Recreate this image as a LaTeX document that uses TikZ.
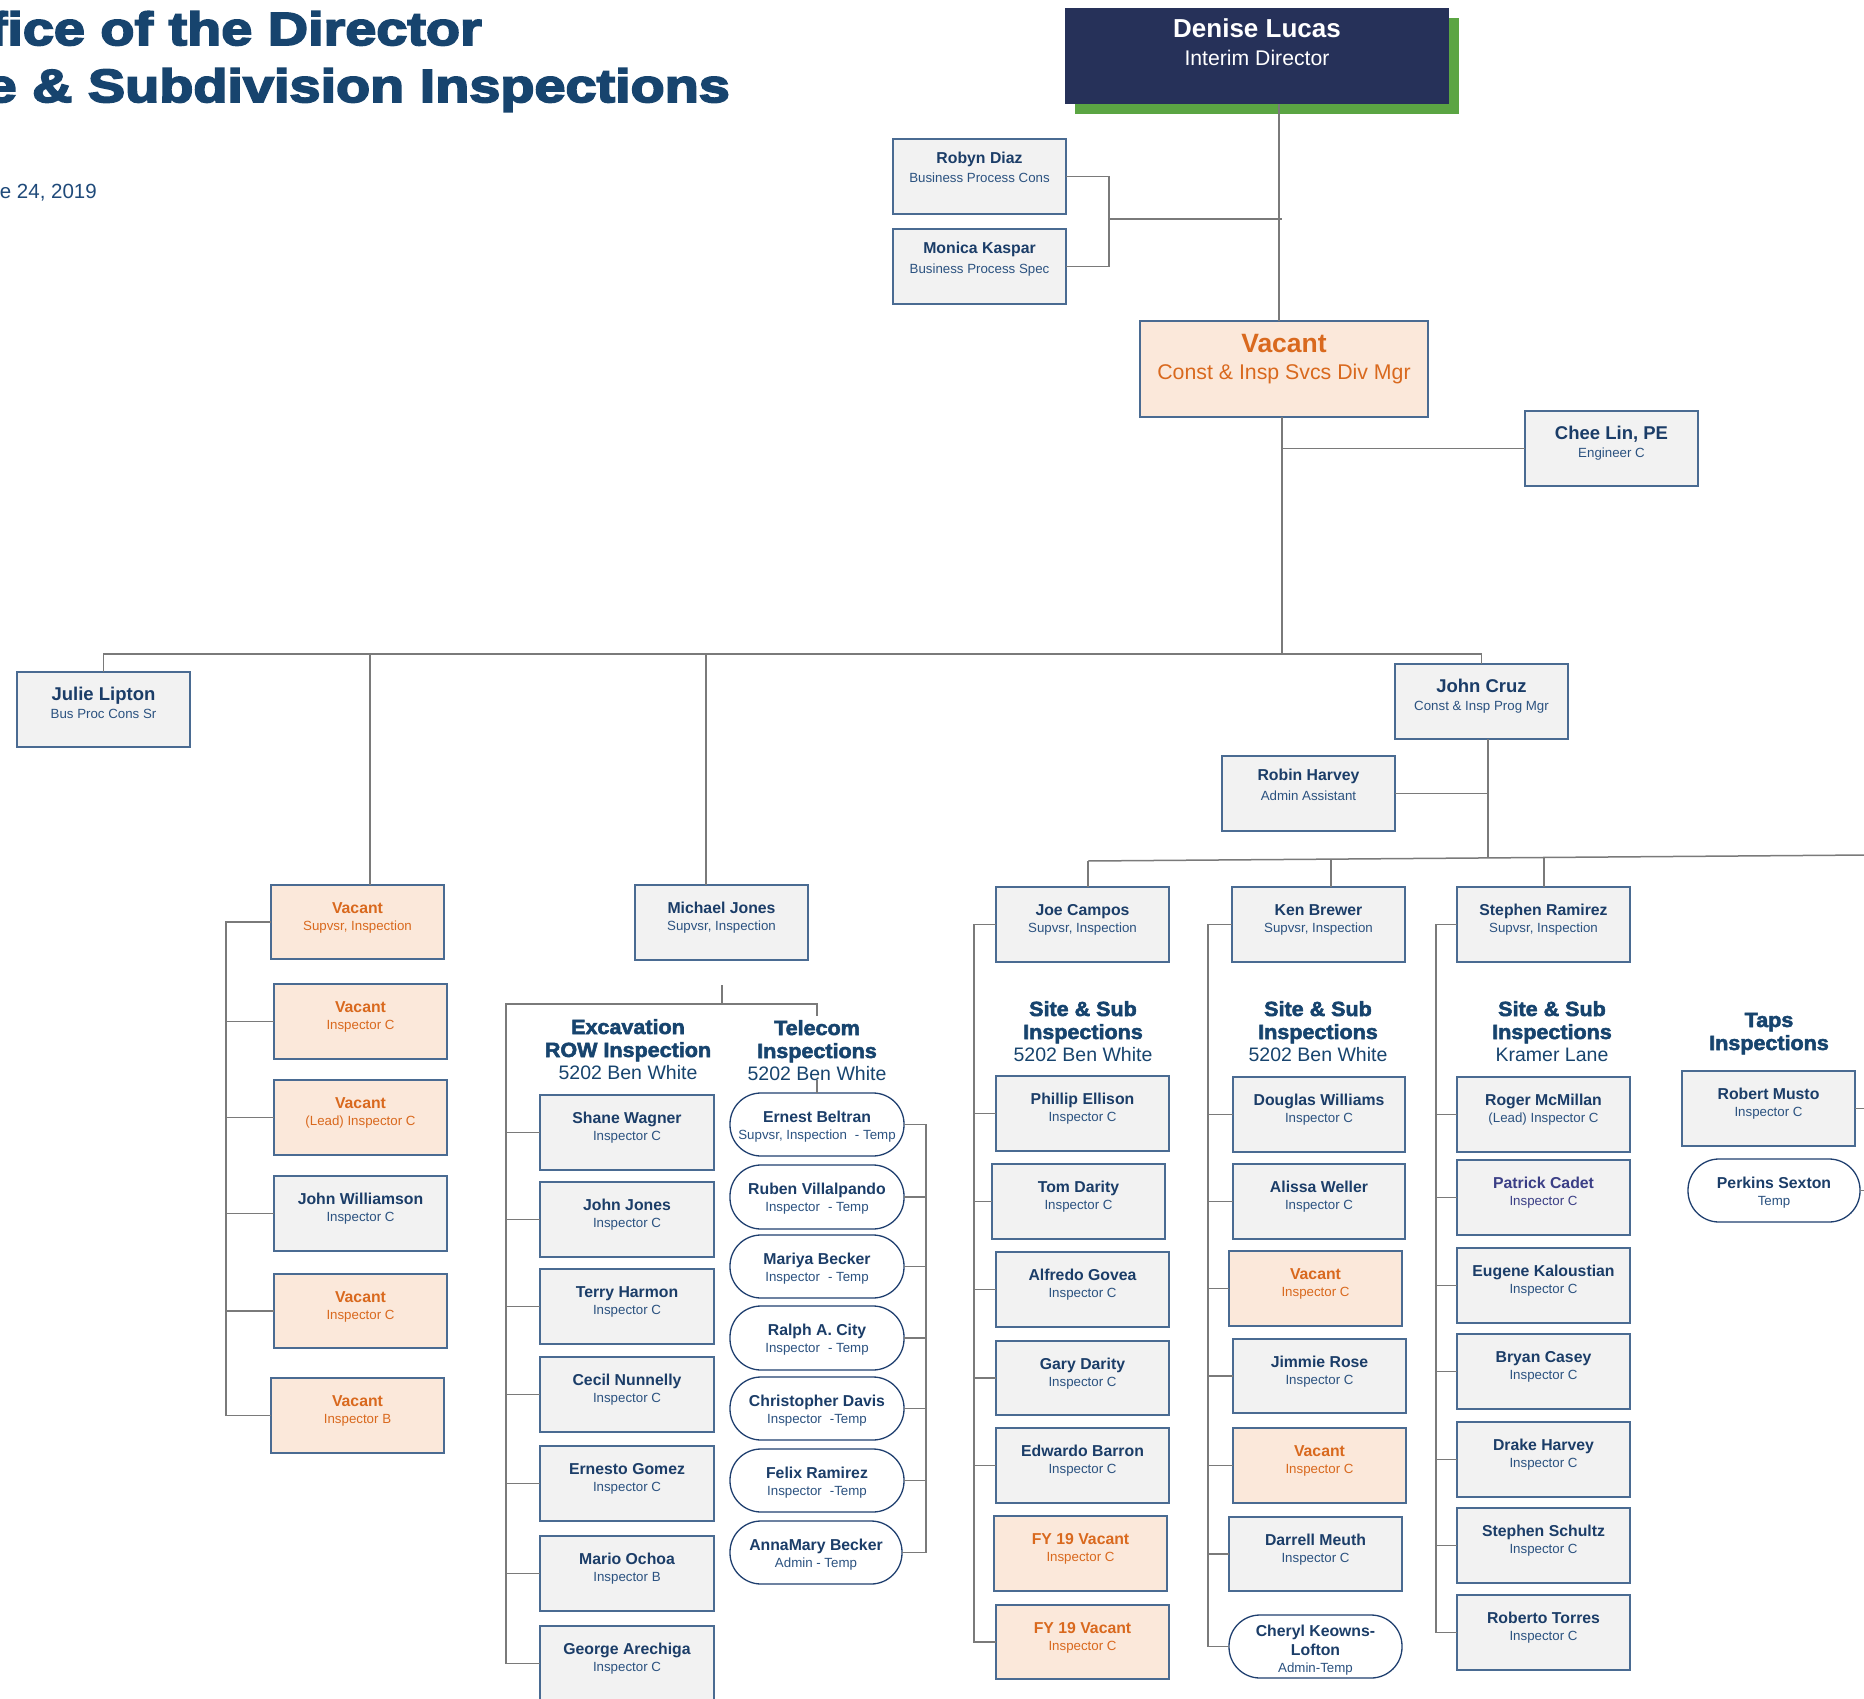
\documentclass[tikz,border=0pt]{standalone}
\usepackage{fontspec}
\setmainfont{Liberation Sans}
\definecolor{navy}{HTML}{263159}
\definecolor{grn}{HTML}{5BA543}
\definecolor{txt}{HTML}{1B3D68}
\definecolor{sub}{HTML}{2B5280}
\definecolor{ttl}{HTML}{17446E}
\definecolor{datec}{HTML}{1F4A7A}
\definecolor{org}{HTML}{D9691E}
\definecolor{peach}{HTML}{FBE8DA}
\definecolor{boxg}{HTML}{F2F2F2}
\definecolor{bord}{HTML}{4A6B92}
\definecolor{pillc}{HTML}{1F3F6F}
\definecolor{conn}{HTML}{7A7A7A}
\definecolor{pcol}{HTML}{3B3F86}
\newcommand\fsz[1]{\fontsize{#1}{#1}\selectfont}
\newcommand\ttlfont{\fsz{46.5}\bfseries\addfontfeatures{FakeBold=4,FakeStretch=1.20}}
\newcommand\hdrfont{\fsz{20.5}\bfseries\addfontfeatures{FakeBold=2.6,FakeStretch=1.05}}
\newcommand\nmsize{15.8}
\newcommand\ttsize{13.3}
\tikzset{
  pbox/.style={draw=bord, line width=1.5pt, fill=boxg, inner sep=0, outer sep=0},
  vbox/.style={pbox, fill=peach},
  rbox/.style={pbox},
  bigbox/.style={pbox},
  pillbox/.style={draw=pillc, line width=1.3pt, fill=white, rounded corners=31pt, inner sep=0, outer sep=0},
  conn/.style={draw=conn, line width=1.5pt},
  ntext/.style={anchor=base, inner sep=0, text=txt, font=\fsz{\nmsize}\bfseries},
  ttext/.style={anchor=base, inner sep=0, text=sub, font=\fsz{\ttsize}},
  pboxN/.style={yshift=-28pt}, pboxT/.style={yshift=-45pt},
  vboxN/.style={yshift=-28pt, text=org}, vboxT/.style={yshift=-45pt, text=org},
  rboxN/.style={yshift=-24.5pt}, rboxT/.style={yshift=-44pt},
  bigboxN/.style={yshift=-28.5pt, font=\fsz{18.5}\bfseries}, bigboxT/.style={yshift=-46pt},
  pillboxN/.style={yshift=-29.5pt}, pillboxT/.style={yshift=-46.5pt},
  hdr/.style={anchor=base, inner sep=0, text=ttl, font=\hdrfont},
  loc/.style={anchor=base, inner sep=0, text=ttl, font=\fsz{19.5}},
}
\newcommand\pers[8][pbox]{%
  \node[#1, minimum width={#5-#3}, minimum height={#6-#4}] (#2) at ({(#3+#5)/2},{(#4+#6)/2}) {};
  \node[ntext, #1N] (#2n) at (#2.north) {#7};
  \node[ttext, #1T] (#2t) at (#2.north) {#8};
}
\begin{document}
\begin{tikzpicture}[x=1pt, y=-1pt]
\useasboundingbox (0,0) rectangle (1864,1699);
\fill[white] (0,0) rectangle (1864,1699);
\clip (0,0) rectangle (1864,1699);

% ---------- title ----------
\node[anchor=base east, inner sep=0, text=ttl, font=\ttlfont] (title1) at (482,45) {Office of the Director};
\node[anchor=base east, inner sep=0, text=ttl, font=\ttlfont] (title2) at (730,102) {Site \& Subdivision Inspections};
\node[anchor=base east, inner sep=0, text=datec, font=\fsz{20.5}] (date) at (97,199) {June 24, 2019};

% ---------- director ----------
\fill[grn] (1075,18) rectangle (1459,114);
\node[fill=navy, inner sep=0, outer sep=0, minimum width=384, minimum height=96] (denise) at (1257,56) {};
\node[anchor=base, inner sep=0, text=white, font=\fsz{26}\bfseries] (denisen) at (1257,38) {Denise Lucas};
\node[anchor=base, inner sep=0, text=white, font=\fsz{21.2}] (deniset) at (1257,66) {Interim Director};

\pers[rbox]{robyn}{893}{139}{1066}{214}{Robyn Diaz}{Business Process Cons}
\pers[rbox]{monica}{893}{229}{1066}{304}{Monica Kaspar}{Business Process Spec}

% ---------- division manager ----------
\node[vbox, minimum width=288, minimum height=96] (vdm) at (1284,369) {};
\node[anchor=base, inner sep=0, text=org, font=\fsz{26.5}\bfseries] (vdmn) at (1284,352) {Vacant};
\node[anchor=base, inner sep=0, text=org, font=\fsz{21.3}] (vdmt) at (1284,379) {Const \& Insp Svcs Div Mgr};

\pers[bigbox]{chee}{1525}{411}{1698}{486}{Chee Lin, PE}{Engineer C}
\pers[bigbox]{julie}{17}{672}{190}{747}{Julie Lipton}{Bus Proc Cons Sr}
\pers[bigbox]{cruz}{1395}{664}{1568}{739}{John Cruz}{Const \& Insp Prog Mgr}
\pers[rbox]{robin}{1222}{756}{1395}{831}{Robin Harvey}{Admin Assistant}

% ---------- left vacant column ----------
\pers[vbox]{vs0}{271}{885}{444}{959}{Vacant}{Supvsr, Inspection}
\pers[vbox]{v1}{274}{984}{447}{1059}{Vacant}{Inspector C}
\pers[vbox]{v2}{274}{1080}{447}{1155}{Vacant}{(Lead) Inspector C}
\pers{jw}{274}{1176}{447}{1251}{John Williamson}{Inspector C}
\pers[vbox]{v3}{274}{1274}{447}{1348}{Vacant}{Inspector C}
\pers[vbox]{v4}{271}{1378}{444}{1453}{Vacant}{Inspector B}

% ---------- Michael Jones ----------
\pers{mj}{635}{885}{808}{960}{Michael Jones}{Supvsr, Inspection}

\node[hdr] (ex1) at (628,1034) {Excavation};
\node[hdr] (ex2) at (628,1057) {ROW Inspection};
\node[loc] (ex3) at (628,1079) {5202 Ben White};
\node[hdr] (te1) at (817,1035) {Telecom};
\node[hdr] (te2) at (817,1058) {Inspections};
\node[loc] (te3) at (817,1080) {5202 Ben White};

\pers{sw}{540}{1095}{714}{1170}{Shane Wagner}{Inspector C}
\pers{jj}{540}{1182}{714}{1257}{John Jones}{Inspector C}
\pers{th}{540}{1269}{714}{1344}{Terry Harmon}{Inspector C}
\pers{cn}{540}{1357}{714}{1432}{Cecil Nunnelly}{Inspector C}
\pers{eg}{540}{1446}{714}{1521}{Ernesto Gomez}{Inspector C}
\pers{mo}{540}{1536}{714}{1611}{Mario Ochoa}{Inspector B}
\pers{ga}{540}{1626}{714}{1701}{George Arechiga}{Inspector C}

\pers[pillbox]{eb}{730}{1093}{904}{1156}{Ernest Beltran}{Supvsr, Inspection\hspace{0.6em}- Temp}
\pers[pillbox]{rv}{730}{1165}{904}{1229}{Ruben Villalpando}{Inspector\hspace{0.6em}- Temp}
\pers[pillbox]{mb}{730}{1235}{904}{1298}{Mariya Becker}{Inspector\hspace{0.6em}- Temp}
\pers[pillbox]{rc}{730}{1306}{904}{1370}{Ralph A. City}{Inspector\hspace{0.6em}- Temp}
\pers[pillbox]{cd}{730}{1377}{904}{1440}{Christopher Davis}{Inspector\hspace{0.6em}-Temp}
\pers[pillbox]{fr}{730}{1449}{904}{1512}{Felix Ramirez}{Inspector\hspace{0.6em}-Temp}
\pers[pillbox]{ab}{730}{1521}{902}{1584}{AnnaMary Becker}{Admin - Temp}

% ---------- Joe Campos ----------
\pers{joe}{996}{887}{1169}{962}{Joe Campos}{Supvsr, Inspection}
\node[hdr] (js1) at (1083,1016) {Site \& Sub};
\node[hdr] (js2) at (1083,1039) {Inspections};
\node[loc] (js3) at (1083,1061) {5202 Ben White};
\pers{pe}{996}{1076}{1169}{1151}{Phillip Ellison}{Inspector C}
\pers{td}{992}{1164}{1165}{1239}{Tom Darity}{Inspector C}
\pers{ag}{996}{1252}{1169}{1327}{Alfredo Govea}{Inspector C}
\pers{gd}{996}{1341}{1169}{1415}{Gary Darity}{Inspector C}
\pers{eba}{996}{1428}{1169}{1503}{Edwardo Barron}{Inspector C}
\pers[vbox]{f1}{994}{1516}{1167}{1591}{FY 19 Vacant}{Inspector C}
\pers[vbox]{f2}{996}{1605}{1169}{1679}{FY 19 Vacant}{Inspector C}

% ---------- Ken Brewer ----------
\pers{ken}{1232}{887}{1405}{962}{Ken Brewer}{Supvsr, Inspection}
\node[hdr] (ks1) at (1318,1016) {Site \& Sub};
\node[hdr] (ks2) at (1318,1039) {Inspections};
\node[loc] (ks3) at (1318,1061) {5202 Ben White};
\pers{dw}{1233}{1077}{1405}{1152}{Douglas Williams}{Inspector C}
\pers{aw}{1233}{1164}{1405}{1239}{Alissa Weller}{Inspector C}
\pers[vbox]{kv1}{1229}{1251}{1402}{1326}{Vacant}{Inspector C}
\pers{jr}{1233}{1339}{1406}{1413}{Jimmie Rose}{Inspector C}
\pers[vbox]{kv2}{1233}{1428}{1406}{1503}{Vacant}{Inspector C}
\pers{dm}{1229}{1517}{1402}{1591}{Darrell Meuth}{Inspector C}
\node[pillbox, minimum width=173, minimum height=63] (ckl) at (1315.5,1646.5) {};
\node[ntext] (ckln1) at (1315.5,1636) {Cheryl Keowns-};
\node[ntext] (ckln2) at (1315.5,1655) {Lofton};
\node[ttext] (cklt) at (1315.5,1672) {Admin-Temp};

% ---------- Stephen Ramirez ----------
\pers{sr}{1457}{887}{1630}{962}{Stephen Ramirez}{Supvsr, Inspection}
\node[hdr] (ss1h) at (1552,1016) {Site \& Sub};
\node[hdr] (ss2h) at (1552,1039) {Inspections};
\node[loc] (ss3h) at (1552,1061) {Kramer Lane};
\pers{rm}{1457}{1077}{1630}{1152}{Roger McMillan}{(Lead) Inspector C}
\pers{pc}{1457}{1160}{1630}{1235}{\textcolor{pcol}{Patrick Cadet}}{\textcolor{pcol}{Inspector C}}
\pers{ek}{1457}{1248}{1630}{1323}{Eugene Kaloustian}{Inspector C}
\pers{bc}{1457}{1334}{1630}{1409}{Bryan Casey}{Inspector C}
\pers{dh}{1457}{1422}{1630}{1497}{Drake Harvey}{Inspector C}
\pers{ss}{1457}{1508}{1630}{1583}{Stephen Schultz}{Inspector C}
\pers{rt}{1457}{1595}{1630}{1670}{Roberto Torres}{Inspector C}

% ---------- Taps ----------
\node[hdr] (tp1) at (1769,1027) {Taps};
\node[hdr] (tp2) at (1769,1050) {Inspections};
\pers{rmu}{1682}{1071}{1855}{1146}{Robert Musto}{Inspector C}
\pers[pillbox]{ps}{1688}{1159}{1860}{1222}{Perkins Sexton}{Temp}

% ---------- connectors ----------
\coordinate (dL) at (1279,0);
\draw[conn] (denise.south -| dL) -- (vdm.north -| dL);
\coordinate (rmj) at (1109,219);
\draw[conn] (robyn.east) -- (robyn.east -| rmj) -- (monica.east -| rmj) -- (monica.east);
\draw[conn] (rmj) -- ([xshift=3pt]rmj -| dL);
\coordinate (vL) at (1282,654);
\draw[conn] (vdm.south -| vL) -- (vL);
\draw[conn] (chee.west) -- (chee.west -| vL);
\draw[conn] (julie.north) -- (julie.north |- vL) -- (cruz.north |- vL) -- (cruz.north);
\coordinate (d1) at (370,654);
\draw[conn] (d1) -- (d1 |- vs0.north);
\coordinate (d2) at (706,654);
\draw[conn] (d2) -- (d2 |- mj.north);

\coordinate (lsp) at (226,0);
\draw[conn] (vs0.west) -- (vs0.west -| lsp) -- (v4.west -| lsp) -- (v4.west);
\foreach \n in {v1,v2,jw,v3} \draw[conn] (\n.west) -- (\n.west -| lsp);

\coordinate (mjc) at (722,985);
\coordinate (exT) at (506,1004);
\coordinate (teT) at (817,1004);
\coordinate (teE) at (817,1016);
\draw[conn] (mjc) -- (mjc |- exT);
\draw[conn] (ga.west) -- (ga.west -| exT) -- (exT) -- (teT) -- (teE);
\foreach \n in {sw,jj,th,cn,eg,mo} \draw[conn] (\n.west) -- (\n.west -| exT);
\draw[conn] (te3.south) -- (eb.north);
\coordinate (tsp) at (926,0);
\draw[conn] (eb.east) -- (eb.east -| tsp) -- (ab.east -| tsp) -- (ab.east);
\foreach \n in {rv,mb,rc,cd,fr} \draw[conn] (\n.east) -- (\n.east -| tsp);

\coordinate (cb) at (1488,858);
\draw[conn] (cruz.south -| cb) -- (cb);
\draw[conn] (robin.east) -- (robin.east -| cb);
\coordinate (sbL) at (1088,861);
\coordinate (sbR) at (1880,854.9);
\draw[conn] (sbL) -- (sbR);
\draw[conn] (sbL) -- (sbL |- joe.north);
\coordinate (kb) at (1331,859.1);
\draw[conn] (kb) -- (kb |- ken.north);
\coordinate (sb) at (1544,857.5);
\draw[conn] (sb) -- (sb |- sr.north);

\coordinate (jsp) at (974,0);
\draw[conn] (joe.west) -- (joe.west -| jsp) -- (f2.west -| jsp) -- (f2.west);
\foreach \n in {pe,td,ag,gd,eba} \draw[conn] (\n.west) -- (\n.west -| jsp);
\coordinate (ksp) at (1208,0);
\draw[conn] (ken.west) -- (ken.west -| ksp) -- (ckl.west -| ksp) -- (ckl.west);
\foreach \n in {dw,aw,kv1,jr,kv2,dm} \draw[conn] (\n.west) -- (\n.west -| ksp);
\coordinate (ssp) at (1436,0);
\draw[conn] (sr.west) -- (sr.west -| ssp) -- (rt.west -| ssp) -- (rt.west);
\foreach \n in {rm,pc,ek,bc,dh,ss} \draw[conn] (\n.west) -- (\n.west -| ssp);
\coordinate (tR) at (1880,0);
\draw[conn] (rmu.east) -- (rmu.east -| tR);
\draw[conn] (ps.east) -- (ps.east -| tR);
\end{tikzpicture}
\end{document}
